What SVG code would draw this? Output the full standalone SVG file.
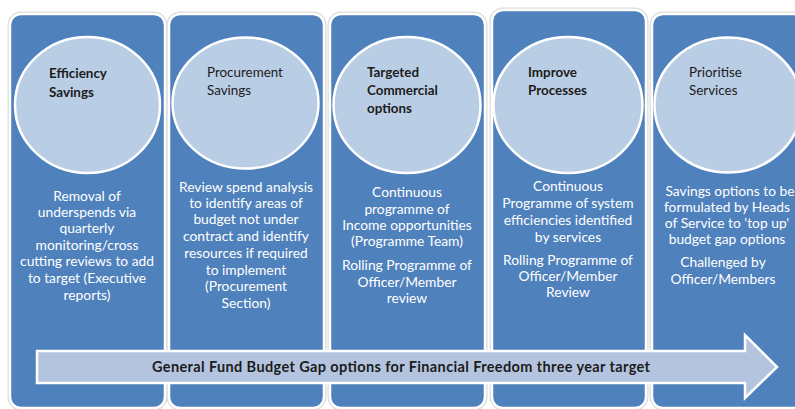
<svg xmlns="http://www.w3.org/2000/svg" width="795" height="409" viewBox="0 0 795 409">
<style>
.panel{fill:#4F81BD;stroke:#ffffff;stroke-width:2.5}
.halo{fill:none;stroke:#dcdcdc;stroke-width:5}
.circ{fill:#B9CDE5;stroke:#ffffff;stroke-width:2.5}
.title{font-family:Lato,"Liberation Sans",sans-serif;font-size:13.4px;fill:#1c1c1c}
.body{font-family:Lato,"Liberation Sans",sans-serif;font-size:13.8px;fill:#ffffff;text-anchor:middle}
.arrowtxt{font-family:Lato,"Liberation Sans",sans-serif;font-size:14.5px;font-weight:bold;fill:#1c1c1c;text-anchor:middle}
</style>
<rect width="795" height="409" fill="#ffffff"/>
<g id="panel1">
<rect class="halo" x="10" y="14" width="155" height="394" rx="11"/>
<rect class="panel" x="10" y="14" width="155" height="394" rx="11"/>
<ellipse class="circ" cx="87.5" cy="105" rx="72.5" ry="68"/>
<text class="title" font-weight="bold"><tspan x="49" y="78">Efficiency</tspan><tspan x="49" y="97">Savings</tspan></text>
<text class="body"><tspan x="87" y="201">Removal of</tspan><tspan x="87" y="217">underspends via</tspan><tspan x="87" y="233">quarterly</tspan><tspan x="87" y="250">monitoring/cross</tspan><tspan x="87" y="266">cutting reviews to add</tspan><tspan x="87" y="283">to target (Executive</tspan><tspan x="87" y="300">reports)</tspan></text>
</g>
<g id="panel2">
<rect class="halo" x="169" y="14" width="155" height="394" rx="11"/>
<rect class="panel" x="169" y="14" width="155" height="394" rx="11"/>
<ellipse class="circ" cx="245.5" cy="103" rx="73" ry="65.5"/>
<text class="title"><tspan x="207" y="77">Procurement</tspan><tspan x="207" y="95">Savings</tspan></text>
<text class="body"><tspan x="246" y="192">Review spend analysis</tspan><tspan x="246" y="208">to identify areas of</tspan><tspan x="246" y="224">budget not under</tspan><tspan x="246" y="241">contract and identify</tspan><tspan x="246" y="258">resources if required</tspan><tspan x="246" y="275">to implement</tspan><tspan x="246" y="291">(Procurement</tspan><tspan x="246" y="308">Section)</tspan></text>
</g>
<g id="panel3">
<rect class="halo" x="330" y="14" width="155" height="394" rx="11"/>
<rect class="panel" x="330" y="14" width="155" height="394" rx="11"/>
<ellipse class="circ" cx="407" cy="105" rx="73.5" ry="68"/>
<text class="title" font-weight="bold"><tspan x="367" y="77">Targeted</tspan><tspan x="367" y="95">Commercial</tspan><tspan x="367" y="113">options</tspan></text>
<text class="body"><tspan x="407" y="197">Continuous</tspan><tspan x="407" y="214">programme of</tspan><tspan x="407" y="230">Income opportunities</tspan><tspan x="407" y="246">(Programme Team)</tspan><tspan x="407" y="270">Rolling Programme of</tspan><tspan x="407" y="287">Officer/Member</tspan><tspan x="407" y="303">review</tspan></text>
</g>
<g id="panel4">
<rect class="halo" x="492" y="10" width="154" height="398" rx="11"/>
<rect class="panel" x="492" y="10" width="154" height="398" rx="11"/>
<ellipse class="circ" cx="568" cy="105" rx="74.5" ry="68"/>
<text class="title" font-weight="bold"><tspan x="528" y="77">Improve</tspan><tspan x="528" y="95">Processes</tspan></text>
<text class="body"><tspan x="568" y="191">Continuous</tspan><tspan x="568" y="208">Programme of system</tspan><tspan x="568" y="225">efficiencies identified</tspan><tspan x="568" y="242">by services</tspan><tspan x="568" y="265">Rolling Programme of</tspan><tspan x="568" y="281">Officer/Member</tspan><tspan x="568" y="297">Review</tspan></text>
</g>
<g id="panel5">
<rect class="halo" x="652" y="14" width="160" height="394" rx="11"/>
<rect class="panel" x="652" y="14" width="160" height="394" rx="11"/>
<ellipse class="circ" cx="728" cy="105" rx="73.5" ry="67.5"/>
<text class="title"><tspan x="689" y="77">Prioritise</tspan><tspan x="689" y="95">Services</tspan></text>
<text class="body" font-size="13.4"><tspan x="730" y="196">Savings options to be</tspan><tspan x="727" y="212">formulated by Heads</tspan><tspan x="727" y="228">of Service to 'top up'</tspan><tspan x="727" y="244">budget gap options</tspan><tspan x="723" y="267">Challenged by</tspan><tspan x="723" y="284">Officer/Members</tspan></text>
</g>
<g id="arrow">
<polygon points="37,351 745,351 745,335 777,367 745,398 745,383 37,383" fill="#B4C4DF" stroke="#ffffff" stroke-width="2.5" stroke-linejoin="miter"/>
<text class="arrowtxt" x="401" y="372" textLength="498" lengthAdjust="spacing">General Fund Budget Gap options for Financial Freedom three year target</text>
</g>
</svg>
